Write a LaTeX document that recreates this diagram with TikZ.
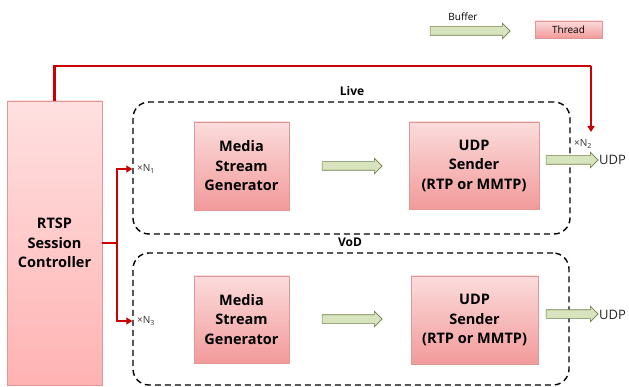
\documentclass[tikz,border=0pt]{standalone}
\usepackage{fontspec}
\setmainfont{Open Sans}
\usetikzlibrary{arrows.meta,shapes.arrows,shadows}
\definecolor{redline}{HTML}{CC0000}
\definecolor{pinkB}{HTML}{E39696}
\definecolor{pinkTop}{HTML}{FBDCDC}
\definecolor{pinkBot}{HTML}{F29A9A}
\definecolor{greenF}{HTML}{D7E4BD}
\definecolor{greenB}{HTML}{6E7F4A}
\tikzset{
  thread/.style={draw=pinkB, line width=0.6pt, top color=pinkTop, bottom color=pinkBot,
    drop shadow={shadow xshift=1.2pt,shadow yshift=-1.2pt,fill=black!30,opacity=0.5},
    font=\bfseries\fontsize{14.5}{19.5}\selectfont, align=center, inner sep=0pt},
  buffer/.style={single arrow, draw=greenB, fill=greenF, line width=0.6pt,
    inner xsep=0pt, inner ysep=4pt, single arrow head extend=3.5pt, shape border rotate=0},
  group/.style={draw, dashed, dash pattern=on 6pt off 4pt, line width=1.4pt, rounded corners=16pt},
  redarrow/.style={draw=redline, line width=2.3pt, -{Triangle[length=6pt,width=7pt]}},
  redline/.style={draw=redline, line width=2.3pt},
  mult/.style={font=\fontsize{10}{12}\selectfont, text=black!80, inner sep=0pt, anchor=west},
  udp/.style={font=\fontsize{13}{15}\selectfont, text=black!85, inner sep=0pt, anchor=west},
  grouplabel/.style={font=\bfseries\fontsize{12}{14}\selectfont, inner sep=0pt}
}
\begin{document}
\begin{tikzpicture}[x=1pt,y=-1pt]
\useasboundingbox (0,0) rectangle (629,387);
% legend
\node[buffer, minimum height=80pt] (lbuf) at (468,31) {};
\node[font=\fontsize{10}{12}\selectfont, inner sep=0pt] (lbuftxt) at (463,17) {Buffer};
\node[thread, minimum width=67pt, minimum height=17pt, font=\fontsize{10}{12}\selectfont] (lthr) at (568.5,29.5) {Thread};
% groups
\node[group, minimum width=437pt, minimum height=132pt] (live) at (351.5,168) {};
\node[group, minimum width=436pt, minimum height=132pt] (vod) at (351,319) {};
\node[grouplabel] (livelbl) at (352,91) {Live};
\node[grouplabel] (vodlbl) at (350,242) {VoD};
% controller
\node[thread, top color=red!12, bottom color=red!30, minimum width=95pt, minimum height=284pt] (rtsp) at (54.5,243) {RTSP\\Session\\Controller};
% live row
\node[thread, minimum width=95pt, minimum height=88pt] (msg1) at (241.5,166) {Media\\Stream\\Generator};
\node[thread, minimum width=130pt, minimum height=87pt] (udp1) at (474,165.5) {UDP\\Sender\\(RTP or MMTP)};
\node[buffer, minimum height=60pt] (b11) at (350,166) {};
\node[buffer, minimum height=52pt] (b12) at (570,160) {};
\node[udp] (out1) at (599,160) {UDP};
% vod row
\node[thread, minimum width=95pt, minimum height=87pt] (msg2) at (241.5,319.5) {Media\\Stream\\Generator};
\node[thread, minimum width=127pt, minimum height=88pt] (udp2) at (474.5,320) {UDP\\Sender\\(RTP or MMTP)};
\node[buffer, minimum height=60pt] (b21) at (350,319) {};
\node[buffer, minimum height=52pt] (b22) at (570,314) {};
\node[udp] (out2) at (599,315) {UDP};
% multiplicity labels
\node[mult] (n1) at (137,169) {×N\textsubscript{1}};
\node[mult] (n2) at (574,144) {×N\textsubscript{2}};
\node[mult] (n3) at (137,321) {×N\textsubscript{3}};
% red connectors
\coordinate (branch) at (117,243);
\coordinate (topL) at (54.5,66);
\coordinate (topR) at (591,66);
\coordinate (n2tip) at (591,132);
\draw[redline] (rtsp.north) -- (topL) -- (topR);
\draw[redarrow] (topR) -- (n2tip);
\draw[redline] (rtsp.east |- branch) -- (branch);
\draw[redarrow] (branch) |- (live.west |- n1.west);
\draw[redarrow] (branch) |- (vod.west |- n3.west);
\end{tikzpicture}
\end{document}
